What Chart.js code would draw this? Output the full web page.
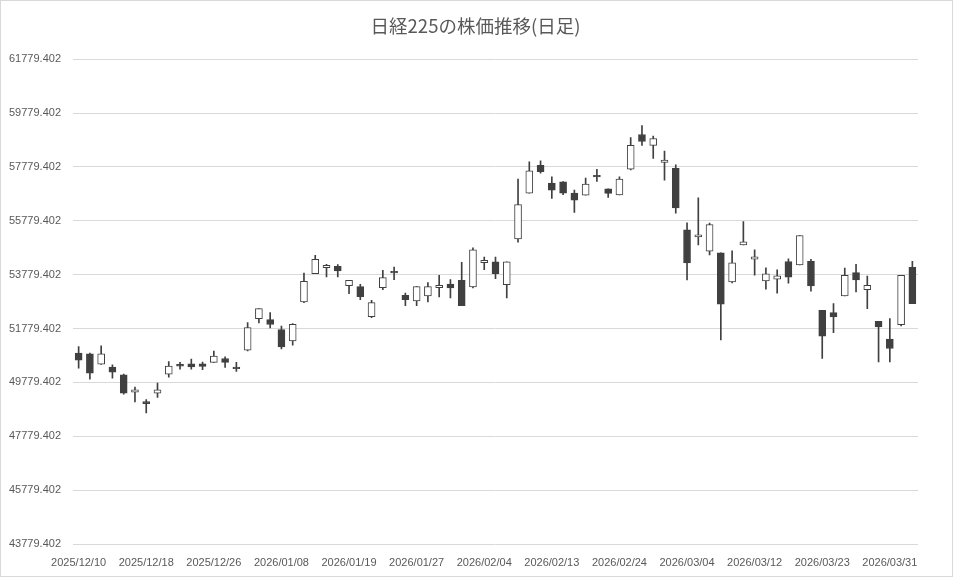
<!DOCTYPE html>
<html>
<head>
<meta charset="utf-8">
<script src="https://cdn.jsdelivr.net/npm/chart.js@4"></script>
<style>
  html, body { margin: 0; padding: 0; background: #fff; }
  #wrap { position: relative; width: 951px; height: 575px; border: 1px solid #d9d9d9; }
</style>
</head>
<body>
<div id="wrap"><canvas id="c" width="951" height="575"></canvas></div>
<script>
const dates = [
  "2025/12/10","2025/12/11","2025/12/12","2025/12/15","2025/12/16","2025/12/17","2025/12/18","2025/12/19","2025/12/22","2025/12/23",
  "2025/12/24","2025/12/25","2025/12/26","2025/12/29","2025/12/30","2026/01/05","2026/01/06","2026/01/07","2026/01/08","2026/01/09",
  "2026/01/13","2026/01/14","2026/01/15","2026/01/16","2026/01/19","2026/01/20","2026/01/21","2026/01/22","2026/01/23","2026/01/26",
  "2026/01/27","2026/01/28","2026/01/29","2026/01/30","2026/02/02","2026/02/03","2026/02/04","2026/02/05","2026/02/06","2026/02/09",
  "2026/02/10","2026/02/12","2026/02/13","2026/02/16","2026/02/17","2026/02/18","2026/02/19","2026/02/20","2026/02/24","2026/02/25",
  "2026/02/26","2026/02/27","2026/03/02","2026/03/03","2026/03/04","2026/03/05","2026/03/06","2026/03/09","2026/03/10","2026/03/11",
  "2026/03/12","2026/03/13","2026/03/16","2026/03/17","2026/03/18","2026/03/19","2026/03/23","2026/03/24","2026/03/25","2026/03/26",
  "2026/03/27","2026/03/30","2026/03/31","2026/04/01","2026/04/02"
];
const openVals = [
  50866,50841,50458,50347,50063,49421,49063,49384,50088,50446,
  50465,50465,50520,50668,50347,50977,52150,52113,51742,51323,
  52767,53816,54039,54088,53372,53335,52224,53298,53903,53014,
  52804,52989,53298,53434,53569,53324,54223,54260,53410,55109,
  56808,57842,57177,57226,56808,56734,57472,56970,56736,57693,
  58982,58577,57951,57730,55445,55185,54653,54591,53514,54888,
  54356,53551,53613,54269,54145,54273,52458,52371,52989,53853,
  53224,52050,51384,51927,54051
];
const highVals = [
  51113,50866,51137,50434,50088,49606,49137,49755,50557,50520,
  50644,50530,50940,50730,50520,52002,52520,52372,51866,51965,
  53841,54495,54162,54150,53569,53421,52829,53940,54063,53100,
  53335,53483,53755,53594,54236,54776,54432,54432,54260,57325,
  57965,58002,57411,57238,56918,57361,57693,56970,57411,58871,
  59313,58921,58368,57853,55705,56634,55693,54591,54665,55755,
  54702,54034,53959,54368,55235,54348,52458,52705,54026,54162,
  53730,52050,52149,53755,54273
];
const lowVals = [
  50310,49903,50450,49940,49347,49051,48644,49224,49977,50273,
  50273,50255,50520,50335,50187,50952,51989,51804,51026,51162,
  52742,53816,53693,53693,53076,52853,52187,53224,53594,52631,
  52631,52767,52952,52915,52631,53287,53964,53632,52918,54986,
  56808,57546,56611,56746,56094,56734,57239,56650,56736,57669,
  58577,58098,57289,56064,53588,54888,54517,51360,53477,54888,
  53761,53241,53093,53464,54145,53170,50667,51630,52989,53137,
  52520,50544,50544,51877,52705
];
const closeVals = [
  50607,50125,50841,50162,49384,49508,48989,49508,50384,50384,
  50350,50370,50755,50520,50286,51816,52520,51928,51100,51940,
  53532,54347,54125,53915,53569,52965,52742,53668,53841,52853,
  53335,53335,53384,53286,52631,54703,54309,53816,54260,56377,
  57632,57608,56918,56808,56549,57140,57411,56798,57325,58577,
  58724,58835,58037,56260,54219,55260,55643,52684,54219,55000,
  54442,53811,53737,53687,55235,53360,51495,52211,53755,53582,
  53384,51840,51038,53755,52705
];
const yTickValues = [43779.402,45779.402,47779.402,49779.402,51779.402,53779.402,55779.402,57779.402,59779.402,61779.402];
const labelEvery = 6;

const DARK = '#404040';
const bodyData = openVals.map((o, i) => [o, closeVals[i]]);
const wickData = lowVals.map((l, i) => [l, highVals[i]]);
const bodyFill = openVals.map((o, i) => closeVals[i] >= o ? '#ffffff' : DARK);

new Chart(document.getElementById('c'), {
  type: 'bar',
  data: {
    labels: dates,
    datasets: [
      {
        label: 'body',
        data: bodyData,
        backgroundColor: bodyFill,
        borderColor: DARK,
        borderWidth: 1,
        borderSkipped: false,
        barThickness: 7,
        grouped: false,
        order: 0
      },
      {
        label: 'wick',
        data: wickData,
        backgroundColor: DARK,
        borderWidth: 0,
        barThickness: 1,
        grouped: false,
        order: 1
      }
    ]
  },
  options: {
    responsive: false,
    animation: false,
    devicePixelRatio: 1,
    layout: { padding: { left: 8, right: 10, top: 14, bottom: 7 } },
    plugins: {
      legend: { display: false },
      tooltip: { enabled: false },
      title: {
        display: true,
        text: '日経225の株価推移(日足)',
        color: '#595959',
        font: { family: '"Noto Sans CJK JP", "Liberation Sans", sans-serif', size: 18.5, weight: 'normal' },
        padding: { top: 0, bottom: 22 }
      }
    },
    scales: {
      x: {
        offset: true,
        grid: { display: false, drawTicks: false },
        border: { display: false },
        afterFit: function (scale) { scale.height = 25; },
        ticks: {
          autoSkip: false,
          maxRotation: 0,
          minRotation: 0,
          padding: 12,
          color: '#595959',
          font: { family: '"Liberation Sans", sans-serif', size: 11 },
          callback: function (value, index) { return index % labelEvery === 0 ? dates[index] : ''; }
        }
      },
      y: {
        min: yTickValues[0],
        max: yTickValues[yTickValues.length - 1],
        afterBuildTicks: function (scale) { scale.ticks = yTickValues.map(v => ({ value: v })); },
        afterFit: function (scale) { scale.width = 64; },
        grid: { color: '#d9d9d9', drawTicks: false, lineWidth: 1 },
        border: { display: false },
        ticks: {
          padding: 12,
          color: '#595959',
          font: { family: '"Liberation Sans", sans-serif', size: 11 },
          callback: function (v) { return Number(v).toFixed(3); }
        }
      },
      yRight: {
        position: 'right',
        min: 0,
        max: 1,
        grid: { display: false, drawTicks: false },
        border: { display: false },
        ticks: { display: false },
        afterFit: function (scale) { scale.width = 24; }
      }
    }
  }
});
</script>
</body>
</html>
